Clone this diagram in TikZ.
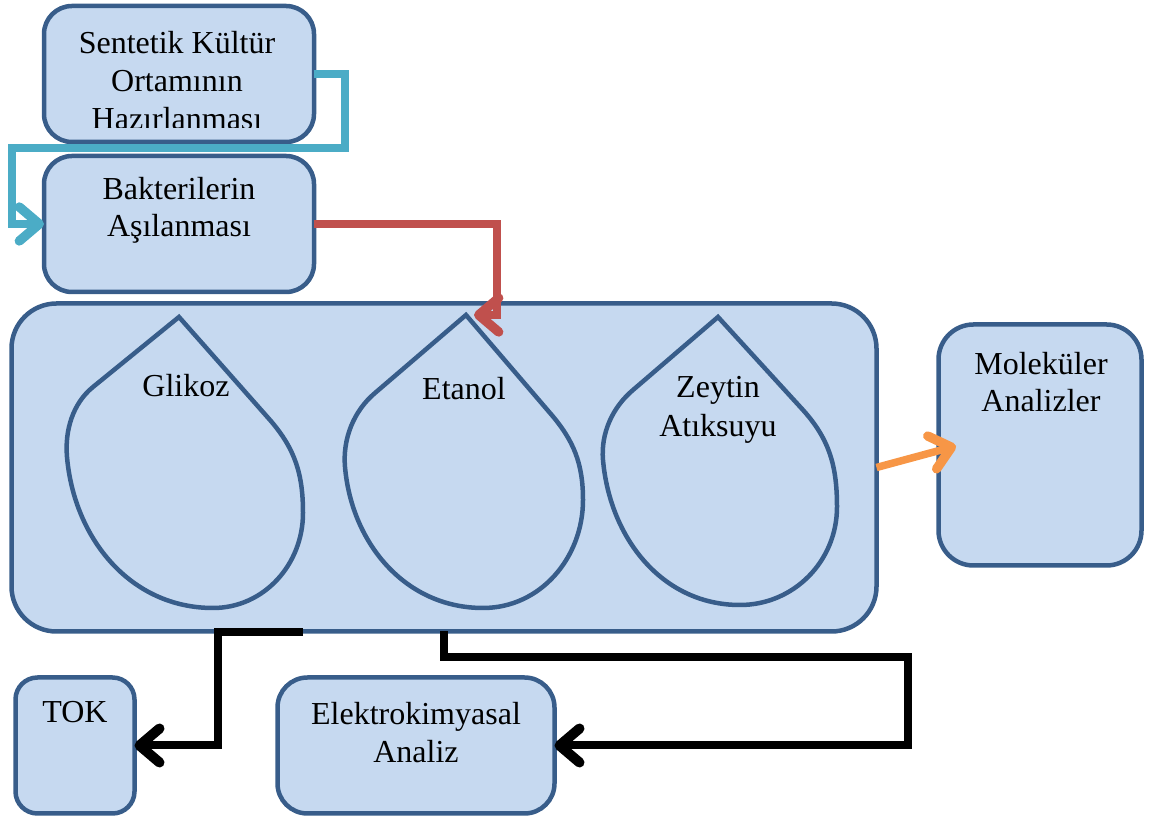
\documentclass[tikz,border=0pt]{standalone}
\usepackage{fontspec}
\setmainfont{Liberation Serif}
\usetikzlibrary{arrows.meta}
\definecolor{fillb}{HTML}{C6D9F0}
\definecolor{edgeb}{HTML}{385D8A}
\definecolor{cyanl}{HTML}{4BACC6}
\definecolor{redl}{HTML}{C0504D}
\definecolor{orangel}{HTML}{F79646}
\begin{document}
\begin{tikzpicture}[x=1pt,y=1pt,
  box/.style={draw=edgeb, fill=fillb, line width=4.5pt, rounded corners=#1, inner sep=0pt, outer sep=0pt},
  box/.default=28pt,
  lbl/.style={font=\fontsize{32}{38}\selectfont, anchor=base, inner sep=0pt},
  drop/.style={draw=edgeb, line width=4.5pt},
  conn/.style={line width=7.5pt, -{Straight Barb[length=20pt,width=34pt,line width=0pt 1.25,line cap=round,line join=round]}},
]
\useasboundingbox (0,0) rectangle (1151,818);

% boxes
\node[box, minimum width=270pt, minimum height=136pt] (b1) at (179,744) {};
\node[box, minimum width=270pt, minimum height=136pt] (b2) at (179,594) {};
\node[box=45pt, minimum width=865pt, minimum height=328pt] (big) at (444,350.5) {};
\node[box=35pt, minimum width=203pt, minimum height=241pt] (mol) at (1040,373) {};
\node[box=22pt, minimum width=119pt, minimum height=136pt] (tok) at (75,72.5) {};
\node[box=30pt, minimum width=277pt, minimum height=136pt] (el) at (416,72.5) {};

% drops
\draw[drop] (179,501) -- (93,431) to[out=219,in=95,looseness=0.9] (67,361) to[out=275,in=180] (213,210)
  to[out=0,in=270] (303,305) to[out=90,in=311] (270,398) -- cycle;
\draw[drop] (466,503) -- (375,425) to[out=220,in=95,looseness=0.9] (345,351) to[out=275,in=180] (483,210)
  to[out=0,in=270] (583,318) to[out=90,in=311] (550,405) -- cycle;
\draw[drop] (718,501) -- (633,428) to[out=220,in=95,looseness=0.9] (603,358) to[out=275,in=180] (740,213)
  to[out=0,in=270] (837,311) to[out=90,in=312] (803,408) -- cycle;

% labels
\node[lbl] (t1a) at (177,764) {Sentetik Kültür};
\node[lbl] (t1b) at (177,726) {Ortamının};
\begin{scope}
  \clip (43,690) rectangle (315,818);
  \node[lbl] (t1c) at (177,688) {Hazırlanması};
\end{scope}
\node[lbl] (t2a) at (179,618) {Bakterilerin};
\node[lbl] (t2b) at (179,581) {Aşılanması};
\node[lbl] (tg) at (186,421) {Glikoz};
\node[lbl] (te) at (464,418) {Etanol};
\node[lbl] (tz1) at (718,420) {Zeytin};
\node[lbl] (tz2) at (718,381) {Atıksuyu};
\node[lbl] (tm1) at (1041,443) {Moleküler};
\node[lbl] (tm2) at (1041,406) {Analizler};
\node[lbl] (tt) at (75,95) {TOK};
\node[lbl] (tel1) at (416,93) {Elektrokimyasal};
\node[lbl] (tel2) at (416,55) {Analiz};

% connectors
\coordinate (cy1) at (345,670);
\coordinate (cy2) at (12,670);
\draw[conn, cyanl] (b1.east) -| (cy1) -- (cy2) |- (b2.west);

\coordinate (rd1) at (497,503);
\coordinate (rd2) at (474,503);
\draw[conn, redl] (b2.east) -| (rd1) -- (rd2);

\coordinate (or1) at (956,372);
\draw[conn, orangel] (big.east) -- (or1);

\coordinate (k1) at (303,186);
\coordinate (k2) at (218,186);
\draw[conn, black, line width=8pt] (k1) -- (k2) |- (tok.east);

\coordinate (k3) at (908,161);
\draw[conn, black, line width=8pt] (big.south) |- (k3) |- (el.east);
\end{tikzpicture}
\end{document}
